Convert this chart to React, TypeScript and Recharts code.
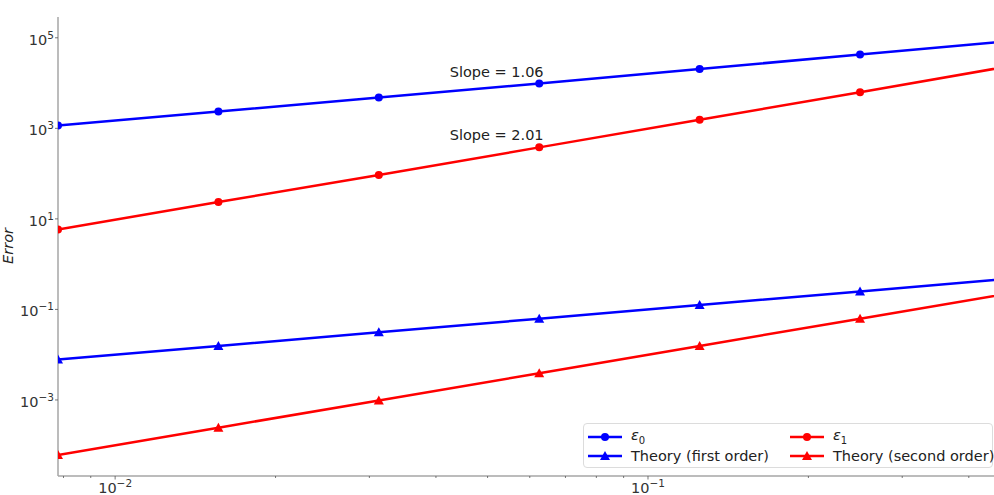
import React from "react";
import {
  LineChart, Line, XAxis, YAxis, ReferenceDot, Label
} from "recharts";

// step sizes h = 1/128 ... 1/2
const steps = [0.0078125, 0.015625, 0.03125, 0.0625, 0.125, 0.25, 0.5];
const eps0 = [1150, 2350, 4800, 9800, 20500, 42500, 89000];
const eps1 = [5.8, 23.5, 93, 380, 1550, 6300, 26000];
const theoryFirst = [0.0078125, 0.015625, 0.03125, 0.0625, 0.125, 0.25, 0.5];
const theorySecond = [0.000061, 0.000244, 0.000977, 0.0039, 0.0156, 0.0625, 0.25];

const xMajor = [0.01, 0.1];
const xMinor = [0.008, 0.009, 0.02, 0.03, 0.04, 0.05, 0.06, 0.07, 0.08, 0.09, 0.2, 0.3, 0.4];
const yTicks = [1e5, 1e3, 1e1, 1e-1, 1e-3];

const slopeNotes = [
  { x: 0.052, y: 17700, text: "Slope = 1.06" },
  { x: 0.052, y: 720, text: "Slope = 2.01" },
];

const BLUE = "#0000ff";
const RED = "#ff0000";
const FONT = "'DejaVu Sans', sans-serif";
const SPINE = "#a6a6a6";

const data = steps.map((h, i) => ({
  h,
  eps0: eps0[i],
  eps1: eps1[i],
  t1: theoryFirst[i],
  t2: theorySecond[i],
}));

const exponentOf = (v: number) => Math.round(Math.log10(v));
const fmtExp = (n: number) => (n < 0 ? `\u2212${-n}` : `${n}`);

const XTick = ({ x, y, payload }: any) => {
  const major = xMajor.some((m) => Math.abs(m - payload.value) < 1e-9);
  return (
    <g>
      <line x1={x} x2={x} y1={y} y2={y + (major ? 3.5 : 2)} stroke="#555" strokeWidth={0.8} />
      {major && (
        <text x={x} y={y + 17} textAnchor="middle" fontFamily={FONT} fontSize={14.5} fill="#333">
          10
          <tspan dy={-6} fontSize={10.5}>{fmtExp(exponentOf(payload.value))}</tspan>
        </text>
      )}
    </g>
  );
};

const YTick = ({ x, y, payload }: any) => (
  <g>
    <line x1={x - 3} x2={x} y1={y} y2={y} stroke="#555" strokeWidth={0.8} />
    <text x={x - 4} y={y + 7} textAnchor="end" fontFamily={FONT} fontSize={14.5} fill="#333">
      10
      <tspan dy={-6} fontSize={10.5}>{fmtExp(exponentOf(payload.value))}</tspan>
    </text>
  </g>
);

const Triangle = ({ cx, cy, fill }: any) => {
  if (cx == null || cy == null) return null;
  const s = 5;
  return (
    <polygon
      points={`${cx},${cy - s} ${cx - s},${cy + s * 0.8} ${cx + s},${cy + s * 0.8}`}
      fill={fill}
    />
  );
};

const legendItems = [
  { label: "eps0", color: BLUE, marker: "circle" },
  { label: "eps1", color: RED, marker: "circle" },
  { label: "Theory (first order)", color: BLUE, marker: "triangle" },
  { label: "Theory (second order)", color: RED, marker: "triangle" },
];

const LegendLabel = ({ label }: { label: string }) => {
  if (label === "eps0" || label === "eps1") {
    return (
      <span>
        <i>ε</i>
        <sub style={{ fontSize: 10 }}>{label.slice(3)}</sub>
      </span>
    );
  }
  return <span>{label}</span>;
};

const LegendSwatch = ({ color, marker }: { color: string; marker: string }) => (
  <svg width={36} height={12} style={{ marginRight: 8, flex: "none" }}>
    <line x1={1} x2={35} y1={6} y2={6} stroke={color} strokeWidth={2.5} />
    {marker === "circle" ? (
      <circle cx={18} cy={6} r={4} fill={color} />
    ) : (
      <polygon points="18,1 13,10 23,10" fill={color} />
    )}
  </svg>
);

const ChartLegend = () => (
  <div
    style={{
      position: "absolute",
      left: 583,
      top: 423,
      width: 410,
      height: 45,
      boxSizing: "border-box",
      border: "1px solid #dcdcdc",
      borderRadius: 4,
      background: "rgba(255,255,255,0.85)",
      display: "grid",
      gridTemplateColumns: "202px 206px",
      gridTemplateRows: "19px 19px",
      padding: "3px 0 0 3px",
      fontFamily: FONT,
      fontSize: 14.5,
      color: "#222",
    }}
  >
    {legendItems.map((it) => (
      <div key={it.label} style={{ display: "flex", alignItems: "center", whiteSpace: "nowrap" }}>
        <LegendSwatch color={it.color} marker={it.marker} />
        <LegendLabel label={it.label} />
      </div>
    ))}
  </div>
);

export default function App() {
  return (
    <div style={{ position: "absolute", left: 0, top: 0, width: 994, height: 495, background: "#fff" }}>
      <LineChart
        width={994}
        height={495}
        data={data}
        margin={{ top: 17, right: 0, bottom: 0, left: 0 }}
      >
        <XAxis
          dataKey="h"
          type="number"
          scale="log"
          domain={[0.0078125, 0.446]}
          allowDataOverflow
          ticks={[...xMinor, ...xMajor].sort((a, b) => a - b)}
          interval={0}
          tick={<XTick />}
          tickLine={false}
          tickSize={0}
          tickMargin={0}
          height={19}
          axisLine={{ stroke: SPINE, strokeWidth: 1.5 }}
        />
        <XAxis
          xAxisId="top"
          dataKey="h"
          type="number"
          scale="log"
          domain={[0.0078125, 0.446]}
          allowDataOverflow
          orientation="top"
          height={0}
          tick={false}
          tickLine={false}
          axisLine={{ stroke: SPINE, strokeWidth: 1.5 }}
        />
        <YAxis
          type="number"
          scale="log"
          domain={[2.09e-5, 288000]}
          allowDataOverflow
          ticks={yTicks}
          interval={0}
          tick={<YTick />}
          tickLine={false}
          tickSize={0}
          tickMargin={0}
          width={58}
          axisLine={{ stroke: SPINE, strokeWidth: 1.5 }}
        >
          <Label
            content={() => (
              <text
                x={13}
                y={246}
                transform="rotate(-90 13 246)"
                textAnchor="middle"
                fontFamily={FONT}
                fontStyle="italic"
                fontSize={14.5}
                fill="#222"
              >
                Error
              </text>
            )}
          />
        </YAxis>
        <Line
          dataKey="eps0"
          stroke={BLUE}
          strokeWidth={2.5}
          dot={{ r: 4, fill: BLUE, stroke: BLUE, strokeWidth: 0 }}
          isAnimationActive={false}
        />
        <Line
          dataKey="eps1"
          stroke={RED}
          strokeWidth={2.5}
          dot={{ r: 4, fill: RED, stroke: RED, strokeWidth: 0 }}
          isAnimationActive={false}
        />
        <Line
          dataKey="t1"
          stroke={BLUE}
          strokeWidth={2.5}
          dot={(p: any) => <Triangle key={p.index} {...p} fill={BLUE} />}
          isAnimationActive={false}
        />
        <Line
          dataKey="t2"
          stroke={RED}
          strokeWidth={2.5}
          dot={(p: any) => <Triangle key={p.index} {...p} fill={RED} />}
          isAnimationActive={false}
        />
        {slopeNotes.map((n) => (
          <ReferenceDot key={n.text} x={n.x} y={n.y} r={0} stroke="none" fill="none">
            <Label value={n.text} position="center" fontFamily={FONT} fontSize={14.5} fill="#222" />
          </ReferenceDot>
        ))}
      </LineChart>
      <ChartLegend />
    </div>
  );
}
